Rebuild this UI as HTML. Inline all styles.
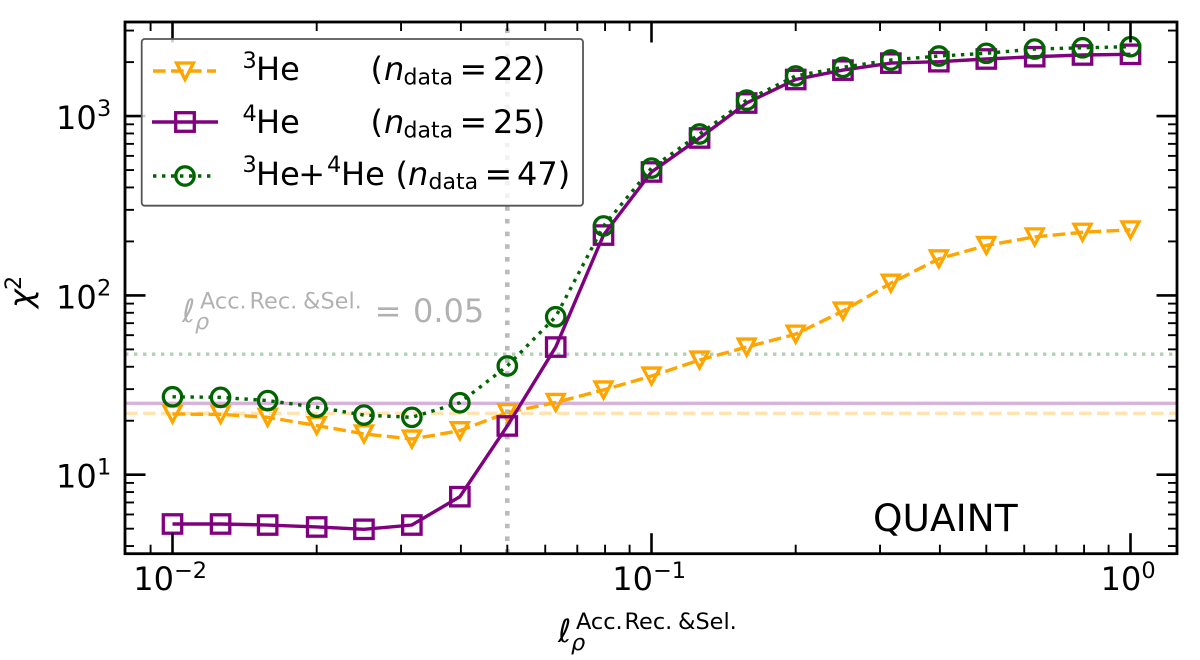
<!DOCTYPE html>
<html lang="en">
<head>
<meta charset="utf-8">
<title>QUAINT chi-squared chart</title>
<style>
html,body{margin:0;padding:0;background:#fff;width:1200px;height:660px;overflow:hidden}
svg{display:block}
text{font-family:"DejaVu Sans","Liberation Sans",sans-serif;fill:#000}
.it{font-style:italic}
</style>
</head>
<body>
<svg id="chart" xmlns="http://www.w3.org/2000/svg" width="1200" height="660" viewBox="0 0 1200 660">
  <g id="plot"></g>
  <g id="ticks"></g>
  <rect x="125" y="22" width="1052" height="531.7" fill="none" stroke="#000" stroke-width="2.8"/>

  <g transform="translate(32,308) rotate(-90)">
    <text class="it" x="0" y="0" font-size="32">χ</text>
    <text x="18" y="-11" font-size="22.4">2</text>
  </g>
  <g>
    <text class="it" x="558" y="642" font-size="32">ℓ</text>
    <text x="576" y="629" font-size="22.4">Acc.</text>
    <text x="624.5" y="629" font-size="22.4">Rec.</text>
    <text x="678" y="629" font-size="22.4">&amp;Sel.</text>
    <text class="it" x="571" y="650" font-size="22.4">ρ</text>
  </g>

  <g style="opacity:.3">
    <text class="it" x="182" y="322" font-size="32">ℓ</text>
    <text x="200" y="308.3" font-size="22.4">Acc.</text>
    <text x="249.5" y="308.3" font-size="22.4">Rec.</text>
    <text x="303" y="308.3" font-size="22.4">&amp;Sel.</text>
    <text class="it" x="195" y="329" font-size="22.4">ρ</text>
    <text x="374.6" y="322" font-size="32">=</text>
    <text x="413" y="322" font-size="32">0.05</text>
  </g>
  <text x="873" y="531" font-size="37.5">QUAINT</text>

  <g id="legend">
    <rect x="141.7" y="39" width="441.3" height="166.7" rx="3" fill="#fff" fill-opacity=".8" stroke="#555" stroke-width="1.8"/>

    <g>
      <line x1="153" x2="216" y1="71" y2="71" stroke="#ffa500" stroke-width="3.4" stroke-dasharray="12.6,5.4"/>
      <path d="M176.5 63 H193.5 L185 79.5 Z" fill="none" stroke="#ffa500" stroke-width="3.3"/>
      <text x="242.5" y="68" font-size="22.4">3</text>
      <text x="256" y="80" font-size="32">He</text>
      <text x="370.5" y="80" font-size="32">(</text>
      <text class="it" x="384" y="80" font-size="32">n</text>
      <text x="403.5" y="84.5" font-size="22">data</text>
      <text x="459.5" y="80" font-size="33">=</text>
      <text x="493" y="80" font-size="32">22</text>
      <text x="532.8" y="80" font-size="32">)</text>
    </g>

    <g>
      <line x1="152" x2="218" y1="122" y2="122" stroke="#800080" stroke-width="3.4"/>
      <rect x="175.7" y="112.7" width="18.6" height="18.6" fill="none" stroke="#800080" stroke-width="3.3"/>
      <text x="242.5" y="121" font-size="22.4">4</text>
      <text x="256" y="133" font-size="32">He</text>
      <text x="370.5" y="133" font-size="32">(</text>
      <text class="it" x="384" y="133" font-size="32">n</text>
      <text x="403.5" y="137.5" font-size="22">data</text>
      <text x="459.5" y="133" font-size="33">=</text>
      <text x="493" y="133" font-size="32">25</text>
      <text x="532.8" y="133" font-size="32">)</text>
    </g>

    <g>
      <line x1="153" x2="216" y1="176" y2="176" stroke="#006400" stroke-width="3.4" stroke-dasharray="3.4,5.6"/>
      <circle cx="185" cy="176" r="9.2" fill="none" stroke="#006400" stroke-width="3.3"/>
      <text x="242.5" y="172" font-size="22.4">3</text>
      <text x="256" y="185" font-size="32">He</text>
      <text x="298.3" y="185" font-size="32">+</text>
      <text x="327" y="172" font-size="22.4">4</text>
      <text x="341" y="185" font-size="32">He</text>
      <text x="395.5" y="185" font-size="32">(</text>
      <text class="it" x="408" y="185" font-size="32">n</text>
      <text x="428.5" y="189" font-size="22">data</text>
      <text x="484.5" y="185" font-size="33">=</text>
      <text x="517" y="185" font-size="32">47</text>
      <text x="557.8" y="185" font-size="32">)</text>
    </g>
  </g>
</svg>

<script>
// Chart data
const lengthScales = [0.01, 0.0126, 0.0158, 0.02, 0.0251, 0.0316, 0.0398, 0.05, 0.0631, 0.0794, 0.1, 0.126, 0.158, 0.2, 0.251, 0.316, 0.398, 0.5, 0.631, 0.794, 1];
const chi2He3 = [21.8, 21.7, 20.9, 18.8, 16.9, 15.8, 17.6, 22.2, 25.3, 29.7, 35.5, 43.6, 51.5, 60.8, 81.8, 117, 160, 190, 212, 225, 232];
const chi2He4 = [5.31, 5.31, 5.24, 5.11, 4.96, 5.24, 7.54, 18.7, 51.5, 217, 488, 755, 1183, 1600, 1805, 1975, 2011, 2082, 2144, 2192, 2211];
const chi2Both = [27.2, 27, 25.9, 23.8, 21.5, 20.9, 25.2, 40.4, 76, 244, 513, 795, 1228, 1675, 1871, 2055, 2163, 2240, 2366, 2405, 2438];
const nDataHe3 = 22;
const nDataHe4 = 25;
const nDataBoth = 47;
const selectedScale = [0.05];
const xMajorTicks = [0.01, 0.1, 1];
const xTickExponents = ["\u22122", "\u22121", "0"];
const yMajorTicks = [10, 100, 1000];
const yTickExponents = ["1", "2", "3"];
const minorMultipliers = [2, 3, 4, 5, 6, 7, 8, 9];
const decades = [0.001, 0.01, 0.1, 1, 10, 100, 1000];

// Axis functions
const LEFT = 125, RIGHT = 1177, TOP = 22, BOTTOM = 553.7;
function xAxis(v) { return 172.5 + (Math.log10(v) + 2) * 479; }
function yAxis(v) { return 474.7 - (Math.log10(v) - 1) * 179.3; }

const NS = 'http://www.w3.org/2000/svg';
const plot = document.getElementById('plot');
const ticks = document.getElementById('ticks');
function mk(tag, parent, attrs) {
  const el = document.createElementNS(NS, tag);
  for (const k in attrs) el.setAttribute(k, attrs[k]);
  parent.appendChild(el);
  return el;
}

// Reference lines
const refHe3 = mk('line', plot, {x1: LEFT, x2: RIGHT, y1: yAxis(nDataHe3), y2: yAxis(nDataHe3), stroke: '#ffa500', 'stroke-width': 3.4, 'stroke-opacity': .3, 'stroke-dasharray': '12.6,5.4'});


const refHe4 = mk('line', plot, {x1: LEFT, x2: RIGHT, y1: yAxis(nDataHe4), y2: yAxis(nDataHe4), stroke: '#800080', 'stroke-width': 3.4, 'stroke-opacity': .3});


const refBoth = mk('line', plot, {x1: LEFT, x2: RIGHT, y1: yAxis(nDataBoth), y2: yAxis(nDataBoth), stroke: '#006400', 'stroke-width': 3.4, 'stroke-opacity': .3, 'stroke-dasharray': '3.4,5.6'});


const refX = mk('line', plot, {x1: xAxis(selectedScale[0]), x2: xAxis(selectedScale[0]), y1: BOTTOM, y2: TOP, stroke: '#bbbbbb', 'stroke-width': 4.6, 'stroke-dasharray': '4.6,8.1'});



function linePoints(values) {
  return values.map((v, i) => xAxis(lengthScales[i]).toFixed(2) + ',' + yAxis(v).toFixed(2)).join(' ');
}

// Series He3
const gHe3 = mk('g', plot, {});


mk('polyline', gHe3, {points: linePoints(chi2He3), fill: 'none', stroke: '#ffa500', 'stroke-width': 3.4, 'stroke-dasharray': '12.6,5.4'});
chi2He3.forEach((v, i) => {
  const cx = xAxis(lengthScales[i]), cy = yAxis(v);
  const p = mk('path', gHe3, {d: 'M' + (cx - 8.5) + ' ' + (cy - 8) + ' H' + (cx + 8.5) + ' L' + cx + ' ' + (cy + 8) + ' Z', fill: 'none', stroke: '#ffa500', 'stroke-width': 3.3});
  
  
});

// Series He4
const gHe4 = mk('g', plot, {});


mk('polyline', gHe4, {points: linePoints(chi2He4), fill: 'none', stroke: '#800080', 'stroke-width': 3.4});
chi2He4.forEach((v, i) => {
  const cx = xAxis(lengthScales[i]), cy = yAxis(v);
  const p = mk('rect', gHe4, {x: cx - 9.2, y: cy - 9.2, width: 18.4, height: 18.4, fill: 'none', stroke: '#800080', 'stroke-width': 3.3});
  
  
});

// Series He3+He4
const gBoth = mk('g', plot, {});


mk('polyline', gBoth, {points: linePoints(chi2Both), fill: 'none', stroke: '#006400', 'stroke-width': 3.4, 'stroke-dasharray': '3.4,5.6'});
chi2Both.forEach((v, i) => {
  const cx = xAxis(lengthScales[i]), cy = yAxis(v);
  const p = mk('circle', gBoth, {cx: cx, cy: cy, r: 9.2, fill: 'none', stroke: '#006400', 'stroke-width': 3.3});
  
  
});

// Ticks
function xTick(v, len, w) {
  const x = xAxis(v);
  if (x <= LEFT + 2 || x >= RIGHT - 2) return;
  const a = mk('line', ticks, {x1: x, x2: x, y1: BOTTOM, y2: BOTTOM - len, stroke: '#000', 'stroke-width': w});
  
  
  const b = mk('line', ticks, {x1: x, x2: x, y1: TOP, y2: TOP + len, stroke: '#000', 'stroke-width': w});
  
  
}
function yTick(v, len, w) {
  const y = yAxis(v);
  if (y <= TOP + 2 || y >= BOTTOM - 2) return;
  const a = mk('line', ticks, {x1: LEFT, x2: LEFT + len, y1: y, y2: y, stroke: '#000', 'stroke-width': w});
  
  
  const b = mk('line', ticks, {x1: RIGHT, x2: RIGHT - len, y1: y, y2: y, stroke: '#000', 'stroke-width': w});
  
  
}
decades.forEach(d => minorMultipliers.forEach(m => {
  xTick(d * m, 9, 1.9);
  yTick(d * m, 9, 1.9);
}));
xMajorTicks.forEach((v, i) => {
  xTick(v, 20.5, 2.6);
  const x = xAxis(v);
  const expWidth = 22.4 * (xTickExponents[i].length === 2 ? 1.474 : 0.636);
  const start = x - (40.7 + expWidth) / 2 - 2.4;
  const t = mk('text', ticks, {x: start, y: 590, 'font-size': 32});
  t.textContent = '10';
  
  
  const s = mk('text', ticks, {x: start + 40.7, y: 578, 'font-size': 22.4});
  s.textContent = xTickExponents[i];
  
  
});
yMajorTicks.forEach((v, i) => {
  yTick(v, 20.5, 2.6);
  const y = yAxis(v);
  const t = mk('text', ticks, {x: 56, y: y + 13, 'font-size': 32});
  t.textContent = '10';
  
  
  const s = mk('text', ticks, {x: 97, y: y, 'font-size': 22.4});
  s.textContent = yTickExponents[i];
  
  
});
</script>
</body>
</html>
